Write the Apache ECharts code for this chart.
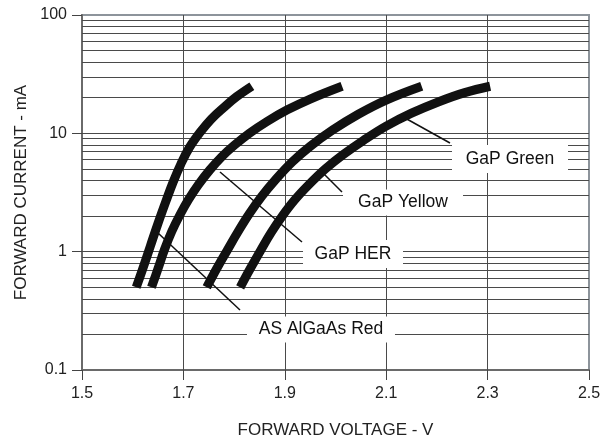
<!DOCTYPE html>
<html>
<head>
<meta charset="utf-8">
<script src="https://cdn.jsdelivr.net/npm/echarts@6/dist/echarts.min.js"></script>
<style>
  html, body { margin: 0; padding: 0; background: #fff; }
  #chart { width: 613px; height: 446px; }
</style>
</head>
<body>
<div id="chart"></div>
<script>
// ---- data ----
const xTickLabels = [1.5, 1.7, 1.9, 2.1, 2.3, 2.5];
const yTickLabels = [0.1, 1, 10, 100];
const hGridValues = [0.2,0.3,0.4,0.5,0.6,0.7,0.8,0.9,1,2,3,4,5,6,7,8,9,10,20,30,40,50,60,70,80,90];
const vGridValues = [1.7, 1.9, 2.1, 2.3];

const redAlGaAs = [[1.607,0.5],[1.620,0.72],[1.635,1.12],[1.650,1.74],[1.665,2.63],[1.680,3.9],[1.695,5.5],[1.712,7.6],[1.733,10.2],[1.755,13.2],[1.780,16.6],[1.805,20.4],[1.835,25]];
const gapHER = [[1.637,0.5],[1.650,0.72],[1.663,1.05],[1.677,1.48],[1.693,2.04],[1.710,2.75],[1.730,3.7],[1.752,4.9],[1.775,6.3],[1.800,7.9],[1.830,10],[1.865,12.6],[1.905,15.8],[1.950,19.5],[2.013,25]];
const gapYellow = [[1.746,0.5],[1.765,0.71],[1.786,1.02],[1.808,1.48],[1.830,2.09],[1.855,2.95],[1.882,4.07],[1.915,5.75],[1.950,7.76],[1.995,10.7],[2.045,14.5],[2.100,19.1],[2.170,25]];
const gapGreen = [[1.812,0.5],[1.832,0.72],[1.852,1.02],[1.873,1.45],[1.895,2.0],[1.920,2.75],[1.948,3.7],[1.980,5.0],[2.015,6.6],[2.055,8.7],[2.100,11.5],[2.150,14.8],[2.205,18.6],[2.255,22.1],[2.305,25]];

const labelNames = ['GaP Green', 'GaP Yellow', 'GaP HER', 'AS AlGaAs Red'];
const labelVolt = [2.3225, 2.1233, 2.0306, 1.9477];
const labelCurr = [5.95, 2.60, 0.884, 0.2158];

const leaderGreen = [[2.1371,13.48],[2.2258,8.29]];
const leaderYellow = [[1.9694,4.90],[2.0128,3.19]];
const leaderHER = [[1.7722,4.71],[1.9339,1.207]];
const leaderRed = [[1.6499,1.438],[1.8116,0.321]];

// ---- styles ----
const FONT = "'Liberation Sans', Arial, Helvetica, sans-serif";
const GRID_COLOR = '#4a4a4a';
const boxSizes = [[116,28],[120,26],[100,28],[148,26]];
const boxOffsets = [[11,-1],[5,0],[2,-4],[12,-1]];

const chart = echarts.init(document.getElementById('chart'), null, {renderer: 'canvas'});

function curve(name, data) {
  return {
    name: name, type: 'line', data: data, smooth: 0.4,
    showSymbol: false, symbol: 'none', z: 4, silent: true,
    lineStyle: { color: '#111', width: 9, cap: 'butt', join: 'round' }
  };
}
function leader(data) {
  return {
    type: 'line', data: data, showSymbol: false, symbol: 'none', z: 5, silent: true,
    lineStyle: { color: '#111', width: 1.5 }
  };
}

const option = {
  animation: false,
  backgroundColor: '#fff',
  grid: { left: 82, right: 24, top: 15, bottom: 76, show: true, borderColor: '#8d949b', borderWidth: 2, backgroundColor: '#fff' },
  xAxis: {
    type: 'value', min: 1.5, max: 2.5, interval: 0.1,
    name: 'FORWARD VOLTAGE - V', nameLocation: 'middle', nameGap: 52,
    nameTextStyle: { fontFamily: FONT, fontSize: 17, color: '#222' },
    axisLine: { show: true, onZero: false, lineStyle: { color: '#6a6a6a', width: 2 } },
    axisTick: { show: true, inside: false, length: 10, customValues: xTickLabels, lineStyle: { color: '#444', width: 1 } },
    axisLabel: {
      show: true, margin: 16, customValues: xTickLabels,
      fontFamily: FONT, fontSize: 16, color: '#222',
      formatter: function (v) {
        for (const t of xTickLabels) { if (Math.abs(t - v) < 1e-6) return t.toFixed(1); }
        return '';
      }
    },
    splitLine: { show: false }
  },
  yAxis: {
    type: 'log', logBase: 10, min: 0.1, max: 100,
    name: 'FORWARD CURRENT - mA', nameLocation: 'middle', nameGap: 38, nameRotate: 90,
    nameTextStyle: { fontFamily: FONT, fontSize: 17, color: '#222' },
    axisLine: { show: true, lineStyle: { color: '#6a6a6a', width: 2 } },
    axisTick: { show: true, inside: false, length: 10, lineStyle: { color: '#444', width: 1 } },
    axisLabel: {
      margin: 15, fontFamily: FONT, fontSize: 16, color: '#222',
      formatter: function (v) { return v < 1 ? v.toFixed(1) : String(Math.round(v)); }
    },
    splitLine: { show: false },
    minorTick: { show: false }, minorSplitLine: { show: false }
  },
  series: [
    {
      type: 'line', data: [], z: 1, silent: true, symbol: 'none',
      markLine: {
        z: 1, silent: true, symbol: ['none','none'], animation: false,
        label: { show: false },
        lineStyle: { color: GRID_COLOR, width: 1, type: 'solid' },
        data: hGridValues.map(v => ({ yAxis: v })).concat(vGridValues.map(v => ({ xAxis: v })))
      }
    },
    curve('AS AlGaAs Red', redAlGaAs),
    curve('GaP HER', gapHER),
    curve('GaP Yellow', gapYellow),
    curve('GaP Green', gapGreen),
    leader(leaderGreen), leader(leaderYellow), leader(leaderHER), leader(leaderRed),
    {
      type: 'scatter', z: 3, silent: true,
      data: labelNames.map((n, i) => ({
        name: n, value: [labelVolt[i], labelCurr[i]],
        symbol: 'rect', symbolSize: boxSizes[i], symbolOffset: boxOffsets[i]
      })),
      itemStyle: { color: '#fff', opacity: 1 },
      label: {
        show: true, position: 'inside', formatter: '{b}',
        fontFamily: FONT, fontSize: 17.5, color: '#111'
      }
    }
  ]
};
chart.setOption(option);
</script>
</body>
</html>
